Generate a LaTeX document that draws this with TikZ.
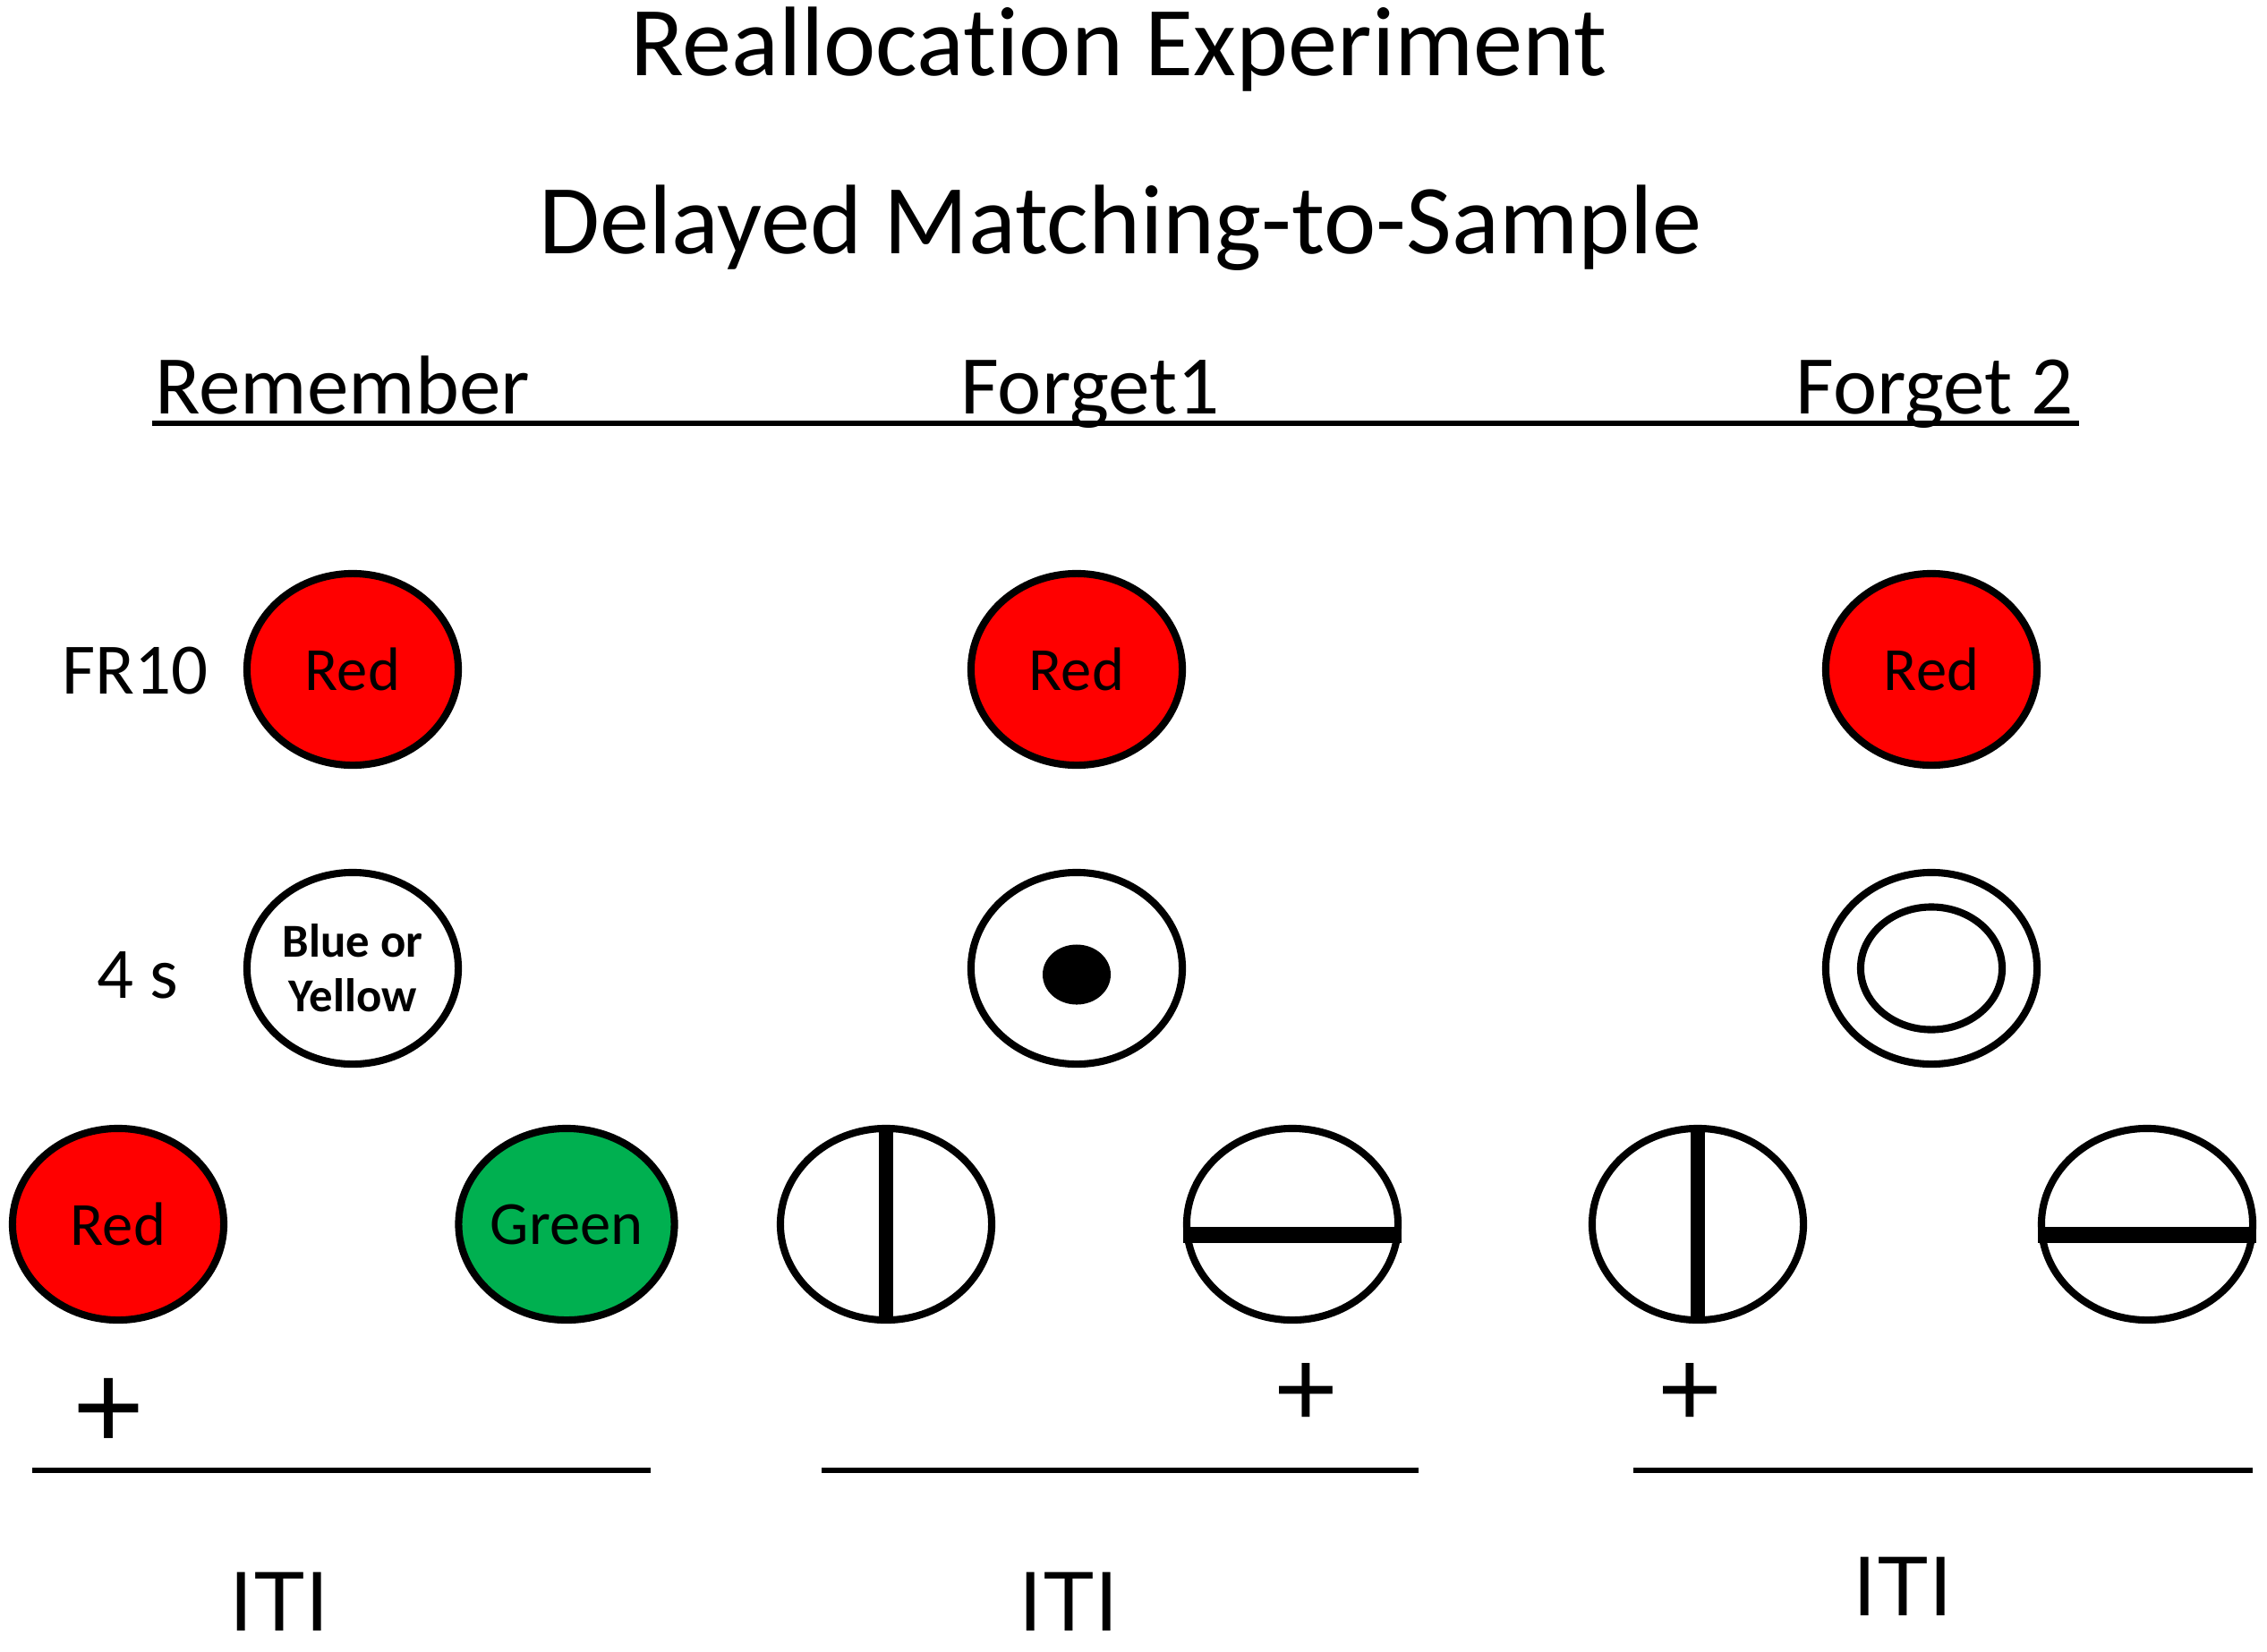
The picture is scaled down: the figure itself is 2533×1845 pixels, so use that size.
\documentclass[tikz,border=0pt]{standalone}
\usepackage{fontspec}
\setmainfont{Carlito}[Ligatures=NoCommon]
\newfontfamily\arialfont{Liberation Sans}
\usetikzlibrary{shapes.geometric}
\definecolor{keyred}{RGB}{255,0,0}
\definecolor{keygreen}{RGB}{0,176,80}

\begin{document}
\begin{tikzpicture}[x=0.01cm,y=-0.01cm,
    key/.style={ellipse,draw,line width=2.3pt,inner sep=0pt,minimum width=2.36cm,minimum height=2.14cm,font=\fontsize{19.5}{21}\selectfont},
    lab/.style={anchor=base,font=\fontsize{23}{25}\selectfont},
    head/.style={anchor=base west,font=\fontsize{26.5}{28}\selectfont},
    iti/.style={anchor=base,font=\arialfont\fontsize{27}{27}\selectfont},
    cross/.style={font=\arialfont\fontsize{35}{35}\selectfont},
    bar/.style={line width=1.5pt}]
  \useasboundingbox (0,0) rectangle (2533,1845);
  % titles
  \node[anchor=base,font=\fontsize{31.4}{34}\selectfont] (title) at (1250,84) {Reallocation Experiment};
  \node[anchor=base,font=\fontsize{31.4}{34}\selectfont] (subtitle) at (1252,283) {Delayed Matching-to-Sample};
  \node[head] (rem) at (161,462) {Remember};
  \node[head] (fone) at (1061,462) {Forget1};
  \node[head] (ftwo) at (1994,462) {Forget 2};
  \draw[line width=1.7pt] (170,473) coordinate (ulstart) -- (2323,473) coordinate (ulend);
  % row labels
  \node[lab] (fr) at (151,775) {FR10};
  \node[lab] (delay) at (154,1115) {4 s};
  % samples
  \node[key,fill=keyred] (remsample) at (394,748) {Red};
  \node[key,fill=keyred] (fonesample) at (1203,748) {Red};
  \node[key,fill=keyred] (ftwosample) at (2158,748) {Red};
  % cues
  \node[key,align=center,font=\fontsize{15}{17.4}\selectfont\bfseries] (remcue) at (394,1082) {Blue or\\Yellow};
  \node[key] (fonecue) at (1203,1082) {};
  \node[ellipse,fill=black,inner sep=0pt,minimum width=0.76cm,minimum height=0.67cm] (dot) at (1203,1089) {};
  \node[key] (ftwocue) at (2158,1082) {};
  \node[key,minimum width=1.58cm,minimum height=1.37cm] (ring) at (ftwocue) {};
  % comparisons
  \node[key,fill=keyred] (remleft) at (132,1368) {Red};
  \node[key,fill=keygreen] (remright) at (633,1368) {Green};
  \node[key] (fonevert) at (990,1368) {};
  \node[key] (fonehorz) at (1444,1368) {};
  \node[key] (ftwovert) at (1897,1368) {};
  \node[key] (ftwohorz) at (2399,1368) {};
  \foreach \k in {fonevert,ftwovert}
    \draw[line width=4.5pt] (\k.north) -- (\k.south);
  \foreach \k in {fonehorz,ftwohorz}
    \draw[line width=5pt] ([yshift=-0.12cm]\k.west) -- ([yshift=-0.12cm]\k.east);
  % ITI
  \node[cross,font=\arialfont\fontsize{39}{39}\selectfont] (remplus) at (122,1580) {+};
  \node[cross] (foneplus) at (1459,1559) {+};
  \node[cross] (ftwoplus) at (1888,1559) {+};
  \draw[bar] (36,1643) coordinate (remstart) -- (727,1643) coordinate (remend);
  \draw[bar] (918,1643) coordinate (fonestart) -- (1585,1643) coordinate (foneend);
  \draw[bar] (1825,1643) coordinate (ftwostart) -- (2517,1643) coordinate (ftwoend);
  \node[iti] (remiti) at (312,1822) {ITI};
  \node[iti] (foneiti) at (1194,1822) {ITI};
  \node[iti] (ftwoiti) at (2126,1805) {ITI};
\end{tikzpicture}
\end{document}
